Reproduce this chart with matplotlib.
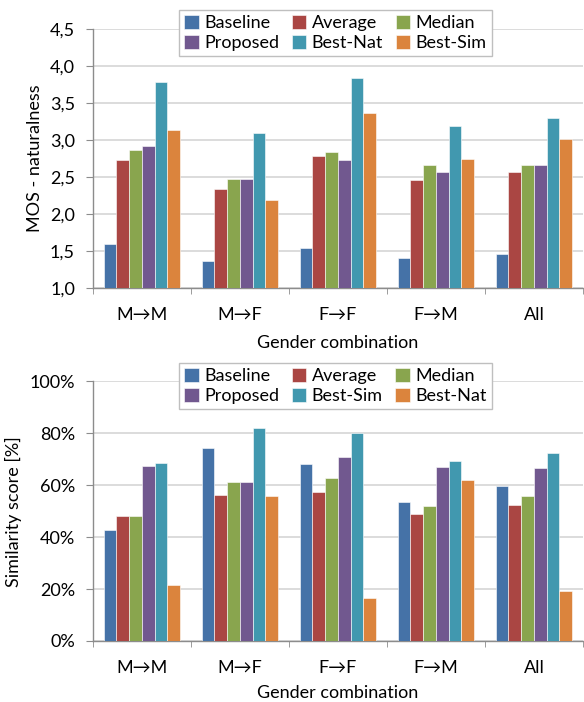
import numpy as np
import matplotlib
matplotlib.use('Agg')
import matplotlib.pyplot as plt
from matplotlib.ticker import FuncFormatter, FixedLocator

plt.rcParams['font.family'] = ['Lato', 'DejaVu Sans']

# Dados
categorias = ['M→M', 'M→F', 'F→F', 'F→M', 'All']

series_mos = ['Baseline', 'Average', 'Median', 'Proposed', 'Best-Nat', 'Best-Sim']
baseline_mos = [1.60, 1.36, 1.54, 1.40, 1.46]
average_mos = [2.73, 2.34, 2.78, 2.46, 2.57]
median_mos = [2.86, 2.47, 2.84, 2.66, 2.66]
proposed_mos = [2.92, 2.47, 2.73, 2.57, 2.66]
bestnat_mos = [3.79, 3.09, 3.84, 3.19, 3.30]
bestsim_mos = [3.14, 2.19, 3.36, 2.75, 3.02]

series_sim = ['Baseline', 'Average', 'Median', 'Proposed', 'Best-Sim', 'Best-Nat']
baseline_sim = [42.6, 74.3, 68.1, 53.4, 59.8]
average_sim = [48.0, 56.2, 57.3, 49.0, 52.4]
median_sim = [48.0, 61.1, 62.7, 51.9, 55.9]
proposed_sim = [67.6, 61.1, 70.9, 67.1, 66.5]
bestsim_sim = [68.5, 82.1, 80.2, 69.5, 72.3]
bestnat_sim = [21.7, 55.9, 16.7, 62.2, 19.2]

cores = ['#4572A7', '#AA4643', '#89A54E', '#71588F', '#4198AF', '#DB843D']

FS = 13
GRID = '#D9D9D9'
AXIS = '#8C8C8C'


def desenhar(ax, valores, nomes, ylim, yticks, fmt, ylabel, leg_y, xpad):
    x = np.arange(len(categorias))
    w = 0.13
    handles = []
    for i, (v, nome) in enumerate(zip(valores, nomes)):
        b = ax.bar(x - 2.5 * w + i * w, v, w, color=cores[i], label=nome,
                   edgecolor='white', linewidth=0.4, zorder=3)
        handles.append(b)
    ax.set_xlim(-0.5, len(categorias) - 0.5)
    ax.set_ylim(*ylim)
    ax.set_yticks(yticks)
    ax.yaxis.set_major_formatter(FuncFormatter(fmt))
    ax.grid(True, axis='y', color=GRID, linewidth=1.3, zorder=0)
    ax.set_axisbelow(True)
    for s in ['top', 'right']:
        ax.spines[s].set_visible(False)
    for s in ['left', 'bottom']:
        ax.spines[s].set_color(AXIS)
        ax.spines[s].set_linewidth(1.0)
    ax.set_xticks(x)
    ax.set_xticklabels(categorias)
    ax.xaxis.set_minor_locator(FixedLocator(np.arange(-0.5, len(categorias), 1.0)))
    ax.tick_params(axis='x', which='major', length=0, pad=14, labelsize=FS)
    ax.tick_params(axis='x', which='minor', length=4, color=AXIS, direction='out')
    ax.tick_params(axis='y', length=5, color=AXIS, pad=8, labelsize=FS)
    ax.set_xlabel('Gender combination', fontsize=FS, labelpad=xpad)
    ax.set_ylabel(ylabel, fontsize=FS, labelpad=5)
    # legenda preenchida por linhas, como no original
    ordem = [0, 3, 1, 4, 2, 5]
    leg = ax.legend([handles[k] for k in ordem], [nomes[k] for k in ordem],
                    ncol=3, loc='center', bbox_to_anchor=(0.5745, leg_y),
                    bbox_transform=fig.transFigure, fontsize=FS,
                    frameon=True, fancybox=False, edgecolor='#BFBFBF',
                    framealpha=1, handlelength=0.8, handleheight=0.8,
                    handletextpad=0.3, columnspacing=0.7, labelspacing=0.2,
                    borderpad=0.3, borderaxespad=0)
    leg.get_frame().set_linewidth(1.0)


fig = plt.figure(figsize=(5.84, 7.02), dpi=100)
ax1 = fig.add_axes([0.1592, 0.5897, 0.839, 0.369])
ax2 = fig.add_axes([0.1592, 0.0869, 0.839, 0.3697])

desenhar(ax1, [baseline_mos, average_mos, median_mos, proposed_mos, bestnat_mos, bestsim_mos],
         series_mos, (1.0, 4.5), np.arange(1.0, 4.51, 0.5),
         lambda v, p: f'{v:.1f}'.replace('.', ','), 'MOS - naturalness', 1 - 33 / 702, 8)

desenhar(ax2, [baseline_sim, average_sim, median_sim, proposed_sim, bestsim_sim, bestnat_sim],
         series_sim, (0, 100), np.arange(0, 101, 20),
         lambda v, p: f'{v:.0f}%', 'Similarity score [%]', 1 - 386 / 702, 6)

fig.savefig('out.png', dpi=100)
